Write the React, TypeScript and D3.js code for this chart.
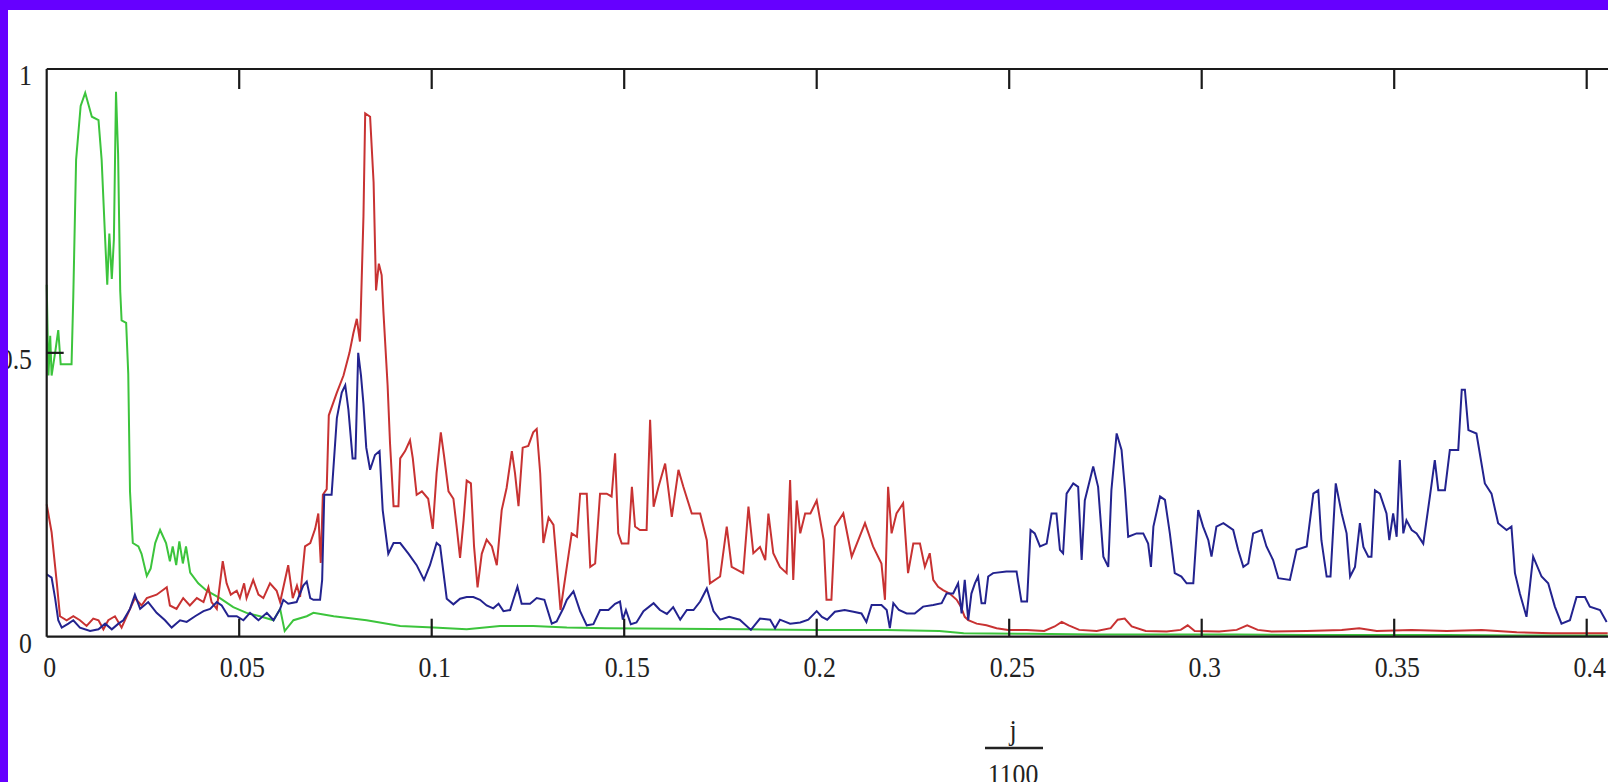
import React from 'react'
import * as d3 from 'd3'

// [j, value] pairs, x axis is j/1100
const greenTrace: [number, number][] = [
  [0, 0.62], [0.5, 0.46], [1, 0.53], [1.4, 0.46], [2.4, 0.5], [3.3, 0.54], [4, 0.48], [7.1, 0.48],
  [7.6, 0.6], [8.4, 0.84], [9.7, 0.935], [11, 0.958], [12.9, 0.916], [14.8, 0.91], [15.7, 0.84],
  [16.7, 0.7], [17.3, 0.62], [17.9, 0.71], [18.6, 0.63], [19.2, 0.7], [19.8, 0.96], [20.4, 0.85],
  [21, 0.61], [21.4, 0.557], [22.7, 0.553], [23.3, 0.463], [23.8, 0.256], [24.6, 0.165], [26.2, 0.159],
  [27.1, 0.146], [28.6, 0.107], [29.7, 0.12], [31, 0.165], [32.4, 0.188], [34.1, 0.165], [35.2, 0.133],
  [36, 0.159], [37, 0.126], [37.9, 0.168], [38.9, 0.129], [39.8, 0.159], [41, 0.113], [43.3, 0.094],
  [45.7, 0.081], [49.5, 0.068], [53.3, 0.052], [57.1, 0.042], [60.9, 0.036], [64.8, 0.029], [66.7, 0.049],
  [68, 0.01], [70.5, 0.029], [74.3, 0.036], [76.2, 0.042], [82, 0.036], [91.4, 0.029], [101, 0.019],
  [110.5, 0.016], [120, 0.013], [129.5, 0.019], [139, 0.019], [148.6, 0.016], [160, 0.015], [180, 0.014],
  [200, 0.013], [220, 0.012], [240, 0.012], [255, 0.01], [262, 0.006], [280, 0.005], [300, 0.004],
  [320, 0.004], [340, 0.004], [360, 0.003], [380, 0.003], [400, 0.003], [420, 0.002], [446, 0.002],
]

const redTrace: [number, number][] = [
  [0, 0.233], [1.4, 0.184], [2.9, 0.094], [3.8, 0.036], [5.7, 0.029], [7.6, 0.036], [9.5, 0.029],
  [11.4, 0.019], [13.3, 0.032], [14.8, 0.029], [16.2, 0.013], [17.6, 0.029], [19.5, 0.036], [21.4, 0.016],
  [23.3, 0.042], [25.2, 0.068], [27.1, 0.055], [28.6, 0.068], [31.4, 0.074], [34.3, 0.087], [35.2, 0.055],
  [37.1, 0.049], [39, 0.068], [40.9, 0.055], [42.9, 0.068], [44.8, 0.061], [46.2, 0.087], [47.1, 0.061],
  [48.6, 0.049], [50.3, 0.133], [51.4, 0.094], [52.6, 0.074], [54.3, 0.081], [55.2, 0.068], [56.4, 0.094],
  [57.1, 0.068], [59, 0.1], [60.5, 0.074], [61.9, 0.068], [63.8, 0.094], [65.7, 0.081], [66.7, 0.061],
  [69, 0.126], [70.3, 0.068], [71.5, 0.09], [72.4, 0.07], [73.8, 0.159], [75.3, 0.165], [76.7, 0.19],
  [77.6, 0.217], [78.3, 0.13], [78.9, 0.25], [80, 0.26], [80.6, 0.39], [82.9, 0.43], [84.8, 0.46],
  [86.5, 0.5], [87.6, 0.534], [88.6, 0.56], [89.5, 0.52], [90.5, 0.74], [91, 0.922], [92.4, 0.916],
  [93.4, 0.8], [94.1, 0.61], [94.9, 0.657], [95.7, 0.637], [96.2, 0.573], [97.4, 0.443], [98.1, 0.34],
  [99.1, 0.23], [100.5, 0.23], [101, 0.314], [102.4, 0.327], [103.8, 0.346], [104.6, 0.314], [105.7, 0.25],
  [107.2, 0.256], [109, 0.243], [110.3, 0.19], [111.4, 0.288], [112.6, 0.36], [113.5, 0.32], [114.8, 0.256],
  [116.2, 0.243], [117.2, 0.19], [118.1, 0.139], [119.1, 0.204], [120, 0.275], [121.2, 0.27], [122.1, 0.159],
  [123.1, 0.087], [124.3, 0.146], [125.7, 0.171], [127.2, 0.159], [128.6, 0.126], [130, 0.223], [131.4, 0.262],
  [132.9, 0.327], [133.8, 0.288], [134.8, 0.23], [136, 0.333], [137.6, 0.336], [139, 0.36], [140, 0.366],
  [141, 0.288], [141.9, 0.165], [143.4, 0.21], [144.8, 0.197], [146.2, 0.094], [146.8, 0.047], [148.6, 0.123],
  [150, 0.182], [151.5, 0.176], [152.4, 0.252], [154.3, 0.252], [155.3, 0.123], [156.7, 0.129], [158.1, 0.252],
  [160, 0.252], [161.4, 0.247], [162.4, 0.323], [163.3, 0.182], [164.3, 0.164], [166.2, 0.164], [167.2, 0.264],
  [168.1, 0.194], [169.5, 0.188], [171.4, 0.188], [172.4, 0.382], [173.4, 0.229], [174.8, 0.264], [176.7, 0.305],
  [178.6, 0.211], [180.5, 0.294], [181.9, 0.264], [184.3, 0.217], [186.7, 0.217], [188.6, 0.17], [189.5, 0.094],
  [192.4, 0.106], [194.3, 0.194], [195.7, 0.123], [199, 0.112], [200.5, 0.229], [201.9, 0.147], [203.8, 0.158],
  [205.3, 0.135], [206.2, 0.217], [207.6, 0.147], [209.5, 0.123], [211.4, 0.112], [212.4, 0.276], [213.3, 0.1],
  [214.3, 0.24], [215.3, 0.182], [216.7, 0.217], [218.2, 0.217], [220, 0.24], [222, 0.17], [222.8, 0.065],
  [224.2, 0.065], [225.2, 0.194], [227.6, 0.217], [230, 0.141], [233.8, 0.2], [236.1, 0.159], [238.5, 0.129],
  [239.5, 0.065], [240.4, 0.264], [241.4, 0.182], [242.8, 0.217], [244.7, 0.235], [246.1, 0.112], [247.6, 0.164],
  [249.5, 0.164], [250.9, 0.123], [252.3, 0.147], [253.3, 0.1], [254.7, 0.088], [256.1, 0.082], [258, 0.076],
  [260, 0.065], [261.2, 0.053], [262.3, 0.035], [263.3, 0.029], [265.7, 0.023], [268.5, 0.02], [271.4, 0.015],
  [274.7, 0.012], [280, 0.012], [285, 0.01], [288, 0.018], [290, 0.026], [292, 0.02], [295, 0.012], [300, 0.01],
  [304, 0.015], [306, 0.03], [308, 0.032], [310, 0.018], [314, 0.01], [320, 0.009], [324, 0.012], [326, 0.02],
  [328, 0.01], [335, 0.009], [340, 0.012], [343, 0.02], [346, 0.012], [350, 0.009], [360, 0.01], [370, 0.012],
  [375, 0.015], [380, 0.01], [390, 0.012], [400, 0.01], [410, 0.012], [420, 0.008], [430, 0.006], [446, 0.006],
]

const blueTrace: [number, number][] = [
  [0, 0.11], [1.4, 0.104], [2.4, 0.068], [3.3, 0.029], [4.3, 0.016], [6.2, 0.023], [7.6, 0.029], [9.5, 0.016],
  [12.4, 0.01], [14.8, 0.013], [16.7, 0.023], [18.6, 0.013], [20.5, 0.023], [21.9, 0.029], [23.8, 0.049],
  [25.2, 0.074], [26.7, 0.049], [29, 0.061], [31.4, 0.042], [33.8, 0.029], [35.7, 0.016], [38.1, 0.029],
  [40, 0.026], [42.4, 0.036], [44.8, 0.045], [46.7, 0.049], [48.6, 0.061], [50, 0.055], [51.9, 0.036],
  [54.3, 0.036], [56.2, 0.029], [58.1, 0.042], [60.5, 0.029], [62.9, 0.042], [64.8, 0.029], [66.7, 0.049],
  [67.6, 0.065], [69, 0.058], [71.4, 0.061], [73.3, 0.09], [74.3, 0.097], [75.3, 0.068], [76.2, 0.065],
  [78.1, 0.065], [78.7, 0.1], [79.3, 0.25], [81.4, 0.25], [82.9, 0.385], [84.3, 0.43], [85.3, 0.443],
  [86.2, 0.4], [87.4, 0.314], [88.2, 0.314], [89, 0.5], [89.8, 0.46], [90.5, 0.41], [91.3, 0.333],
  [92.4, 0.294], [93.8, 0.32], [95.1, 0.327], [96, 0.223], [97.6, 0.146], [99.1, 0.165], [101, 0.165],
  [103.4, 0.146], [105.7, 0.126], [107.8, 0.1], [109.5, 0.126], [111.4, 0.165], [112.4, 0.16], [114.3, 0.067],
  [116.2, 0.057], [118.1, 0.067], [120, 0.07], [121.9, 0.07], [123.8, 0.065], [125.7, 0.055], [127.6, 0.05],
  [129.1, 0.058], [130.5, 0.045], [132.4, 0.047], [134.5, 0.088], [135.7, 0.058], [138.1, 0.058], [140, 0.068],
  [142.2, 0.065], [144.3, 0.023], [145.7, 0.027], [147.6, 0.05], [148.6, 0.065], [150.5, 0.08], [152.4, 0.045],
  [154.3, 0.02], [156.2, 0.022], [158.1, 0.047], [160.5, 0.047], [162.4, 0.058], [163.8, 0.062], [164.6, 0.03],
  [165.5, 0.047], [166.9, 0.022], [168.5, 0.025], [170.5, 0.045], [173.4, 0.059], [175.2, 0.047], [177.2, 0.04],
  [179, 0.052], [181, 0.03], [182.9, 0.047], [184.8, 0.047], [186.7, 0.062], [188.6, 0.085], [190.5, 0.045],
  [192.4, 0.03], [195, 0.035], [198, 0.03], [201.2, 0.012], [203.8, 0.032], [206.7, 0.03], [208.1, 0.015],
  [209.5, 0.03], [212.4, 0.023], [215.3, 0.025], [217.6, 0.03], [220, 0.045], [221.5, 0.035], [223, 0.03],
  [225.2, 0.044], [228, 0.047], [230.5, 0.044], [232.8, 0.041], [234.2, 0.026], [235.7, 0.056], [238.5, 0.056],
  [240, 0.047], [240.9, 0.015], [241.9, 0.059], [243.5, 0.047], [245.7, 0.041], [248, 0.041], [250.4, 0.053],
  [253.3, 0.056], [255.7, 0.059], [257.1, 0.076], [259, 0.076], [260.4, 0.094], [261.4, 0.041], [262.3, 0.1],
  [263.3, 0.029], [264.2, 0.076], [265.2, 0.094], [266.1, 0.106], [267.1, 0.059], [268.1, 0.059], [269, 0.106],
  [270.4, 0.112], [274.2, 0.115], [277.1, 0.115], [278.5, 0.062], [280.1, 0.062], [281.1, 0.188], [282.3, 0.182],
  [283.8, 0.159], [285.7, 0.164], [287.1, 0.217], [288.5, 0.217], [289.5, 0.153], [290.4, 0.147], [291.4, 0.252],
  [293.3, 0.27], [294.7, 0.264], [295.7, 0.135], [296.6, 0.24], [299, 0.3], [300.4, 0.264], [301.9, 0.141],
  [303.3, 0.123], [304.2, 0.258], [305.7, 0.358], [307.1, 0.329], [308.1, 0.258], [309, 0.176], [311.4, 0.182],
  [313.3, 0.182], [314.7, 0.164], [315.5, 0.123], [316.2, 0.194], [318.1, 0.247], [319.5, 0.241], [320.9, 0.182],
  [322.3, 0.112], [324.2, 0.106], [325.7, 0.094], [327.6, 0.094], [329, 0.223], [330.4, 0.194], [331.9, 0.17],
  [332.8, 0.141], [334.2, 0.194], [336.2, 0.2], [339, 0.188], [340.4, 0.153], [341.9, 0.123], [343.3, 0.129],
  [344.7, 0.182], [347.1, 0.188], [348.5, 0.159], [350.4, 0.135], [351.9, 0.103], [355.2, 0.1], [357.1, 0.153],
  [360, 0.159], [361.9, 0.252], [363.3, 0.258], [364.2, 0.17], [365.7, 0.106], [366.8, 0.106], [368.3, 0.27],
  [370, 0.217], [371.4, 0.182], [372.4, 0.106], [373.8, 0.123], [375.2, 0.2], [376.2, 0.158], [377.6, 0.141],
  [378.5, 0.141], [379.5, 0.258], [380.9, 0.252], [382.8, 0.217], [383.6, 0.17], [384.7, 0.217], [385.7, 0.176],
  [386.6, 0.311], [387.6, 0.182], [388.5, 0.205], [390, 0.188], [391.4, 0.182], [393.3, 0.164], [395.2, 0.247],
  [396.6, 0.311], [397.6, 0.258], [399.5, 0.258], [400.9, 0.329], [403.3, 0.329], [404.3, 0.435], [405.2, 0.435],
  [406.2, 0.364], [408.5, 0.358], [410.9, 0.27], [412.8, 0.252], [414.7, 0.2], [417.1, 0.188], [418.5, 0.194],
  [419.5, 0.112], [420.9, 0.076], [422.8, 0.035], [424.7, 0.141], [427.1, 0.106], [429, 0.094], [430.9, 0.053],
  [432.8, 0.023], [435.2, 0.029], [437.1, 0.07], [439.5, 0.07], [440.9, 0.053], [443.8, 0.047], [445.7, 0.026],
]

const xTicks = [0, 0.05, 0.1, 0.15, 0.2, 0.25, 0.3, 0.35, 0.4]
const xTickLabels = ['0', '0.05', '0.1', '0.15', '0.2', '0.25', '0.3', '0.35', '0.4']
const yTicks = [0, 0.5, 1]
const yTickLabels = ['0', '0.5', '1']

const W = 1608
const H = 782
const left = 46.7
const top = 69
const bottom = 636.7
const font = "'Liberation Serif', 'Times New Roman', serif"

const App = () => {
  const x = d3.scaleLinear().domain([0, 0.4]).range([left, 1586.7])
  const y = d3.scaleLinear().domain([0, 1]).range([bottom, top])
  const line = d3
    .line<[number, number]>()
    .x(d => x(d[0] / 1100))
    .y(d => y(d[1]))

  const traces = [
    { data: greenTrace, color: '#3cc43c' },
    { data: redTrace, color: '#c83232' },
    { data: blueTrace, color: '#23238f' },
  ]

  return (
    <svg
      width={W}
      height={H}
      style={{ position: 'absolute', left: 0, top: 0, background: '#fff' }}
    >
      <rect x={0} y={0} width={W} height={H} fill='#fff' />
      {traces.map((t, i) => (
        <path key={i} d={line(t.data) || ''} fill='none' stroke={t.color} strokeWidth={2} />
      ))}

      {/* frame */}
      <g stroke='#1a1a1a' strokeWidth={2.2} fill='none'>
        <line x1={left} x2={W} y1={top} y2={top} />
        <line x1={left} x2={W} y1={bottom} y2={bottom} />
        <line x1={left} x2={left} y1={top} y2={bottom} />
        {xTicks.slice(1).map(t => (
          <g key={t}>
            <line x1={x(t)} x2={x(t)} y1={top} y2={top + 20} />
            <line x1={x(t)} x2={x(t)} y1={bottom} y2={bottom - 18} />
          </g>
        ))}
        <line x1={left} x2={left + 17} y1={y(0.5)} y2={y(0.5)} />
      </g>

      {/* tick labels */}
      <g fill='#222' fontFamily={font} fontSize={30}>
        {xTicks.map((t, i) => (
          <text
            key={t}
            textAnchor='middle'
            transform={`translate(${x(t) + 3},${bottom + 40}) scale(0.86,1)`}
          >
            {xTickLabels[i]}
          </text>
        ))}
        {yTicks.map((t, i) => (
          <text
            key={t}
            textAnchor='end'
            transform={`translate(32,${y(t) + 16}) scale(0.86,1)`}
          >
            {yTickLabels[i]}
          </text>
        ))}
      </g>

      {/* axis title j/1100 */}
      <g fill='#222' fontFamily={font} fontSize={30} textAnchor='middle'>
        <text transform='translate(1013,740) scale(0.86,1)'>j</text>
        <line x1={985} x2={1043} y1={748} y2={748} stroke='#222' strokeWidth={2.5} />
        <text transform='translate(1013,784) scale(0.86,1)'>1100</text>
      </g>

      {/* purple border */}
      <rect x={0} y={0} width={W} height={10} fill='#6600ff' />
      <rect x={0} y={0} width={8} height={H} fill='#6600ff' />
    </svg>
  )
}

export default App
